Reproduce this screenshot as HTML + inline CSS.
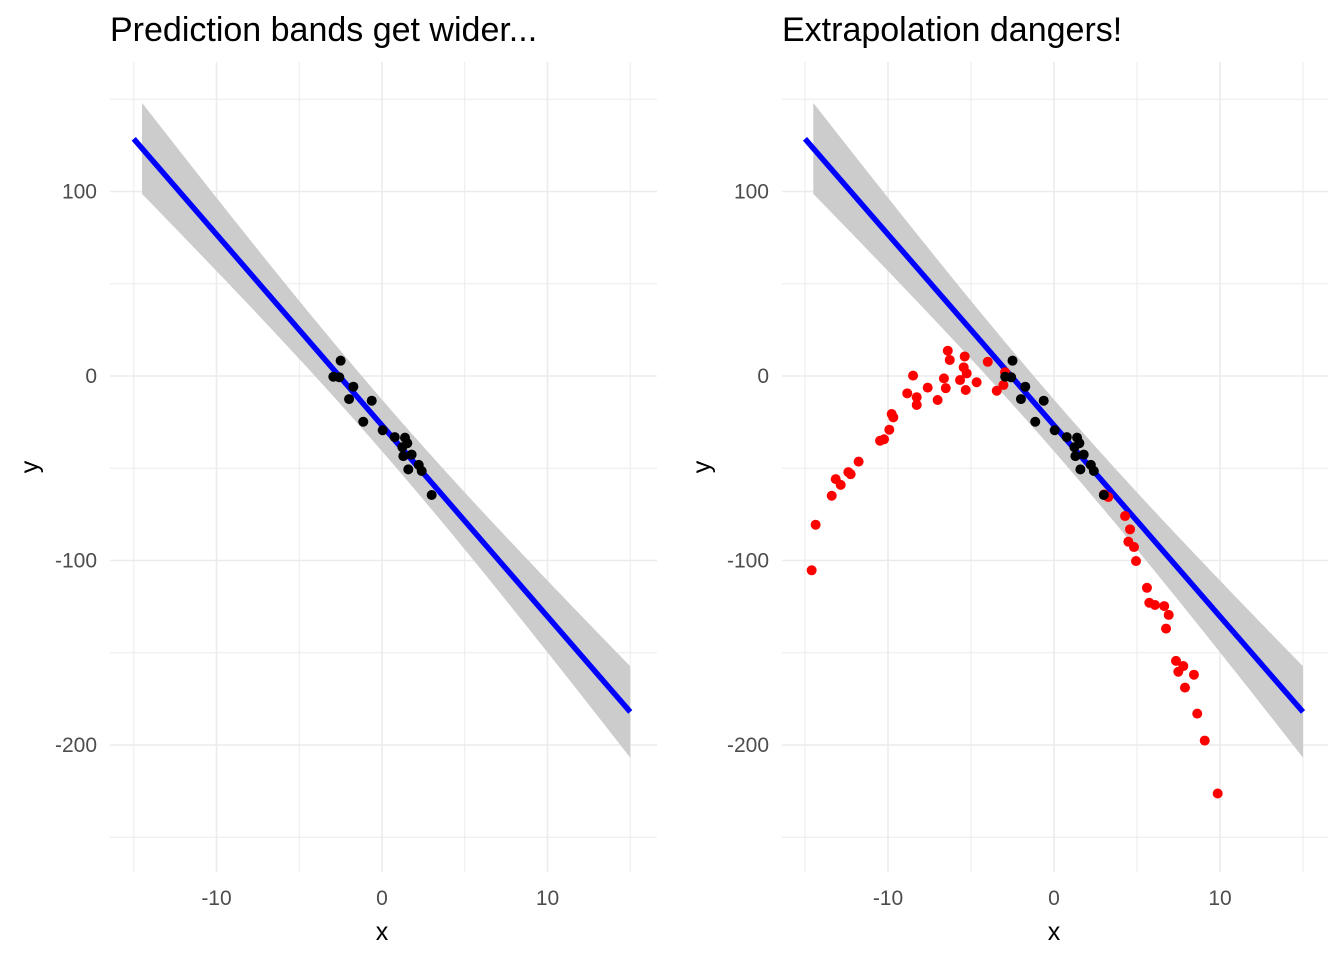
<!DOCTYPE html>
<html><head><meta charset="utf-8"><style>
html,body{margin:0;padding:0;background:#fff;}
svg{display:block;font-family:"Liberation Sans",sans-serif;}
</style></head><body>
<svg id="chart" width="1344" height="960"></svg>
<script>
const blackX=[-2.50,-2.94,-2.58,-1.73,-1.99,-0.62,-1.13,0.04,0.77,1.39,1.53,1.23,1.79,1.29,1.59,2.22,2.40,3.00];
const blackY=[8.3,-0.4,-0.7,-5.8,-12.5,-13.4,-24.8,-29.4,-33.1,-33.4,-36.4,-38.6,-42.6,-43.4,-50.6,-48.2,-51.5,-64.5];
const redX=[-6.40,-6.28,-5.38,-8.49,-6.63,-5.44,-5.26,-5.66,-4.66,-7.61,-6.52,-5.32,-8.84,-8.27,-7.01,-8.27,-3.99,-2.95,-3.05,-3.45,-9.78,-9.68,-9.92,-10.48,-10.24,-11.77,-12.39,-12.25,-13.15,-12.85,-13.39,-14.36,-14.60,3.01,3.27,4.28,4.58,4.48,4.82,4.94,5.60,5.74,6.08,6.64,6.91,6.75,7.35,7.79,7.49,8.43,7.89,8.63,9.08,9.86];
const redY=[13.7,8.7,10.6,0.2,-1.3,4.7,1.4,-2.2,-3.4,-6.3,-6.6,-7.6,-9.4,-11.5,-13.0,-15.7,7.7,2.0,-4.9,-8.0,-20.6,-22.4,-29.1,-35.1,-34.3,-46.4,-52.1,-53.2,-55.9,-59.0,-64.9,-80.6,-105.3,-64.2,-65.6,-75.9,-83.1,-89.8,-92.7,-100.3,-114.8,-122.9,-124.1,-124.7,-129.5,-136.9,-154.4,-157.2,-160.3,-161.9,-168.9,-183.0,-197.6,-226.3];
const xTicks=[-10,0,10];
const yTicks=[100,0,-100,-200];
const xMinor=[-15,-5,5,15];
const yMinor=[150,50,-50,-150,-250];
const titles=["Prediction bands get wider...","Extrapolation dangers!"];
const bandCenterHalf=[14];
const bandEndHalf=[25];

const NS="http://www.w3.org/2000/svg";
const svg=document.getElementById('chart');
function mk(tag,attrs,parent){const e=document.createElementNS(NS,tag);for(const k in attrs)e.setAttribute(k,attrs[k]);(parent||svg).appendChild(e);return e;}

const n=blackX.length;
const xb=blackX.reduce((a,b)=>a+b,0)/n, yb=blackY.reduce((a,b)=>a+b,0)/n;
let sxx=0,sxy=0;for(let i=0;i<n;i++){sxx+=(blackX[i]-xb)**2;sxy+=(blackX[i]-xb)*(blackY[i]-yb);}
const slope=sxy/sxx, icpt=yb-slope*xb;
const A=bandCenterHalf[0]**2, B=(bandEndHalf[0]**2-A)/225;
function hw(x){return Math.sqrt(A+B*(x-xb)**2);}

const panels=[{x0:382,k:16.55,left:110,right:657,red:false},{x0:1054,k:16.6,left:782,right:1328,red:true}];
const Y0=376,KY=1.845,TOP=62,BOT=872;
const sy=v=>Y0-KY*v;

panels.forEach((p,pi)=>{
  const sx=v=>p.x0+p.k*v;
  const g=mk('g',{},svg);
  
  
  const grid=mk('g',{},g);
  
  
  xMinor.concat(xTicks).forEach(v=>{mk('line',{x1:sx(v),x2:sx(v),y1:TOP,y2:BOT,stroke:'#ebebeb','stroke-width':xTicks.includes(v)?1.6:1},grid);});
  yMinor.concat(yTicks).forEach(v=>{mk('line',{x1:p.left,x2:p.right,y1:sy(v),y2:sy(v),stroke:'#ebebeb','stroke-width':yTicks.includes(v)?1.6:1},grid);});
  const xs=[];for(let v=-14.5;v<=15.0001;v+=0.25)xs.push(v);
  let d='';xs.forEach((v,i)=>{d+=(i?'L':'M')+sx(v)+','+sy(icpt+slope*v+hw(v));});
  xs.slice().reverse().forEach(v=>{d+='L'+sx(v)+','+sy(icpt+slope*v-hw(v));});
  const band=mk('path',{d:d+'Z',fill:'#cccccc'},g);
  
  
  const ln=mk('line',{x1:sx(-15),y1:sy(icpt-15*slope),x2:sx(15),y2:sy(icpt+15*slope),stroke:'#0000ff','stroke-width':5.5},g);
  
  
  if(p.red){redX.forEach((v,i)=>{const c=mk('circle',{cx:sx(v),cy:sy(redY[i]),r:5,fill:'#ff0000'},g);
    
    });}
  blackX.forEach((v,i)=>{const c=mk('circle',{cx:sx(v),cy:sy(blackY[i]),r:5,fill:'#000'},g);
    
    });
  xTicks.forEach(v=>{const t=mk('text',{x:sx(v),y:905,'text-anchor':'middle','font-size':21,fill:'#4d4d4d'},g);t.textContent=v;
    
    });
  yTicks.forEach(v=>{const t=mk('text',{x:p.left-13,y:sy(v)+7,'text-anchor':'end','font-size':21,fill:'#4d4d4d'},g);t.textContent=v;
    
    });
  const xt=mk('text',{x:sx(0),y:940,'text-anchor':'middle','font-size':25,fill:'#000'},g);xt.textContent='x';
  
  
  const yx=p.left-72;
  const yt=mk('text',{x:yx,y:467,'text-anchor':'middle','font-size':25,fill:'#000',transform:'rotate(-90 '+yx+' 467)'},g);yt.textContent='y';
  
  
  const tt=mk('text',{x:p.left,y:41,'font-size':34,fill:'#000'},g);tt.textContent=titles[pi];
  
  
});
</script>
</body></html>
